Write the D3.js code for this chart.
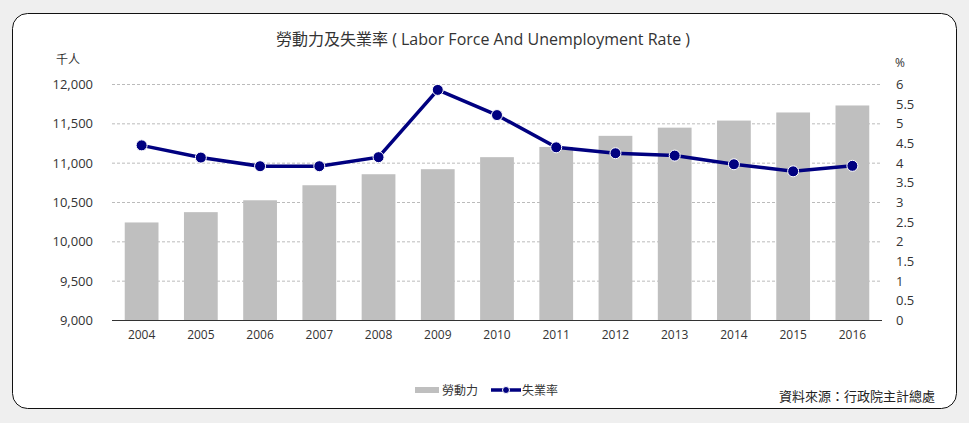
<!DOCTYPE html>
<html>
<head>
<meta charset="utf-8">
<script src="https://cdn.jsdelivr.net/npm/d3@7"></script>
<style>
  body { margin: 0; background: #efefef; }
  text { font-family: "Open Sans", "Noto Sans CJK TC", sans-serif; }
</style>
</head>
<body>
<div id="chart"></div>
<script>
var years = ["2004","2005","2006","2007","2008","2009","2010","2011","2012","2013","2014","2015","2016"];
var laborForce = [10240,10371,10522,10713,10853,10917,11070,11200,11341,11445,11535,11638,11727];
var unemployment = [4.44,4.13,3.91,3.91,4.14,5.85,5.21,4.39,4.24,4.18,3.96,3.78,3.92];
var leftTicks = [9000,9500,10000,10500,11000,11500,12000];
var rightTicks = [0,0.5,1,1.5,2,2.5,3,3.5,4,4.5,5,5.5,6];

var W = 969, H = 423;
var plot = {left: 112, right: 882, top: 84, bottom: 320};

var svg = d3.select("#chart").append("svg")
  .attr("width", W).attr("height", H);

// card
svg.append("rect")
  .attr("x", 12.5).attr("y", 13.5)
  .attr("width", 944).attr("height", 395)
  .attr("rx", 15).attr("ry", 15)
  .attr("fill", "#fff").attr("stroke", "#111").attr("stroke-width", 1);

var x = d3.scaleBand().domain(years).range([plot.left, plot.right])
  .paddingInner(0.43).paddingOuter(0.215);
var yL = d3.scaleLinear().domain([9000, 12000]).range([plot.bottom, plot.top]);
var yR = d3.scaleLinear().domain([0, 6]).range([plot.bottom, plot.top]);

// grid
svg.append("g").selectAll("line")
  .data(leftTicks.slice(1))
  .join("line")
  .attr("x1", plot.left).attr("x2", plot.right)
  .attr("y1", d => yL(d) + 0.5).attr("y2", d => yL(d) + 0.5)
  .attr("stroke", "#bbb").attr("stroke-dasharray", "3,2");

// bars
svg.append("g").selectAll("rect")
  .data(laborForce)
  .join("rect")
  .attr("x", (d, i) => x(years[i]))
  .attr("y", d => yL(d))
  .attr("width", x.bandwidth())
  .attr("height", d => yL(9000) - yL(d))
  .attr("fill", "#bfbfbf");

// left axis
var gl = svg.append("g").attr("transform", "translate(" + (plot.left - 16) + ",0)")
  .call(d3.axisLeft(yL).tickValues(leftTicks).tickSize(0).tickFormat(d3.format(",")));
gl.select(".domain").remove();
gl.selectAll("text").attr("font-size", 13).attr("fill", "#333").attr("dy", "0.35em");

// right axis
var gr = svg.append("g").attr("transform", "translate(" + (plot.right + 11) + ",0)")
  .call(d3.axisRight(yR).tickValues(rightTicks).tickSize(0).tickFormat(d => d));
gr.select(".domain").remove();
gr.selectAll("text").attr("font-size", 13).attr("fill", "#333").attr("dy", "0.35em");

// bottom axis
var gb = svg.append("g").attr("transform", "translate(0," + plot.bottom + ")")
  .call(d3.axisBottom(x).tickSize(0).tickPadding(10));
gb.select(".domain").attr("stroke", "#333").attr("d", "M" + plot.left + ",0.5H" + plot.right);
gb.selectAll("text").attr("font-size", 12).attr("fill", "#333");

// unemployment line
var line = d3.line()
  .x((d, i) => x(years[i]) + x.bandwidth() / 2)
  .y(d => yR(d));
svg.append("path")
  .datum(unemployment)
  .attr("d", line)
  .attr("fill", "none").attr("stroke", "#000080").attr("stroke-width", 3.5);
svg.append("g").selectAll("circle")
  .data(unemployment)
  .join("circle")
  .attr("cx", (d, i) => x(years[i]) + x.bandwidth() / 2)
  .attr("cy", d => yR(d))
  .attr("r", 5.5)
  .attr("fill", "#000080").attr("stroke", "#fff").attr("stroke-width", 1);

// titles
svg.append("text").attr("x", 483).attr("y", 45).attr("text-anchor", "middle")
  .attr("font-size", 16).attr("fill", "#333")
  .text("勞動力及失業率 ( Labor Force And Unemployment Rate )");
svg.append("text").attr("x", 56).attr("y", 64).attr("font-size", 12).attr("fill", "#333").text("千人");
svg.append("text").attr("x", 895).attr("y", 67).attr("font-size", 12).attr("fill", "#333").text("%");

// legend
var lg = svg.append("g");
lg.append("rect").attr("x", 415).attr("y", 387).attr("width", 24).attr("height", 6).attr("fill", "#bfbfbf");
lg.append("text").attr("x", 442).attr("y", 395).attr("font-size", 12).attr("fill", "#333").text("勞動力");
lg.append("line").attr("x1", 491).attr("x2", 521).attr("y1", 390).attr("y2", 390)
  .attr("stroke", "#000080").attr("stroke-width", 3.5);
lg.append("circle").attr("cx", 506).attr("cy", 390).attr("r", 3.5)
  .attr("fill", "#000080").attr("stroke", "#fff").attr("stroke-width", 1);
lg.append("text").attr("x", 522).attr("y", 395).attr("font-size", 12).attr("fill", "#333").text("失業率");

svg.append("text").attr("x", 935).attr("y", 401).attr("text-anchor", "end")
  .attr("font-size", 13).attr("fill", "#222").text("資料來源：行政院主計總處");
</script>
</body>
</html>
